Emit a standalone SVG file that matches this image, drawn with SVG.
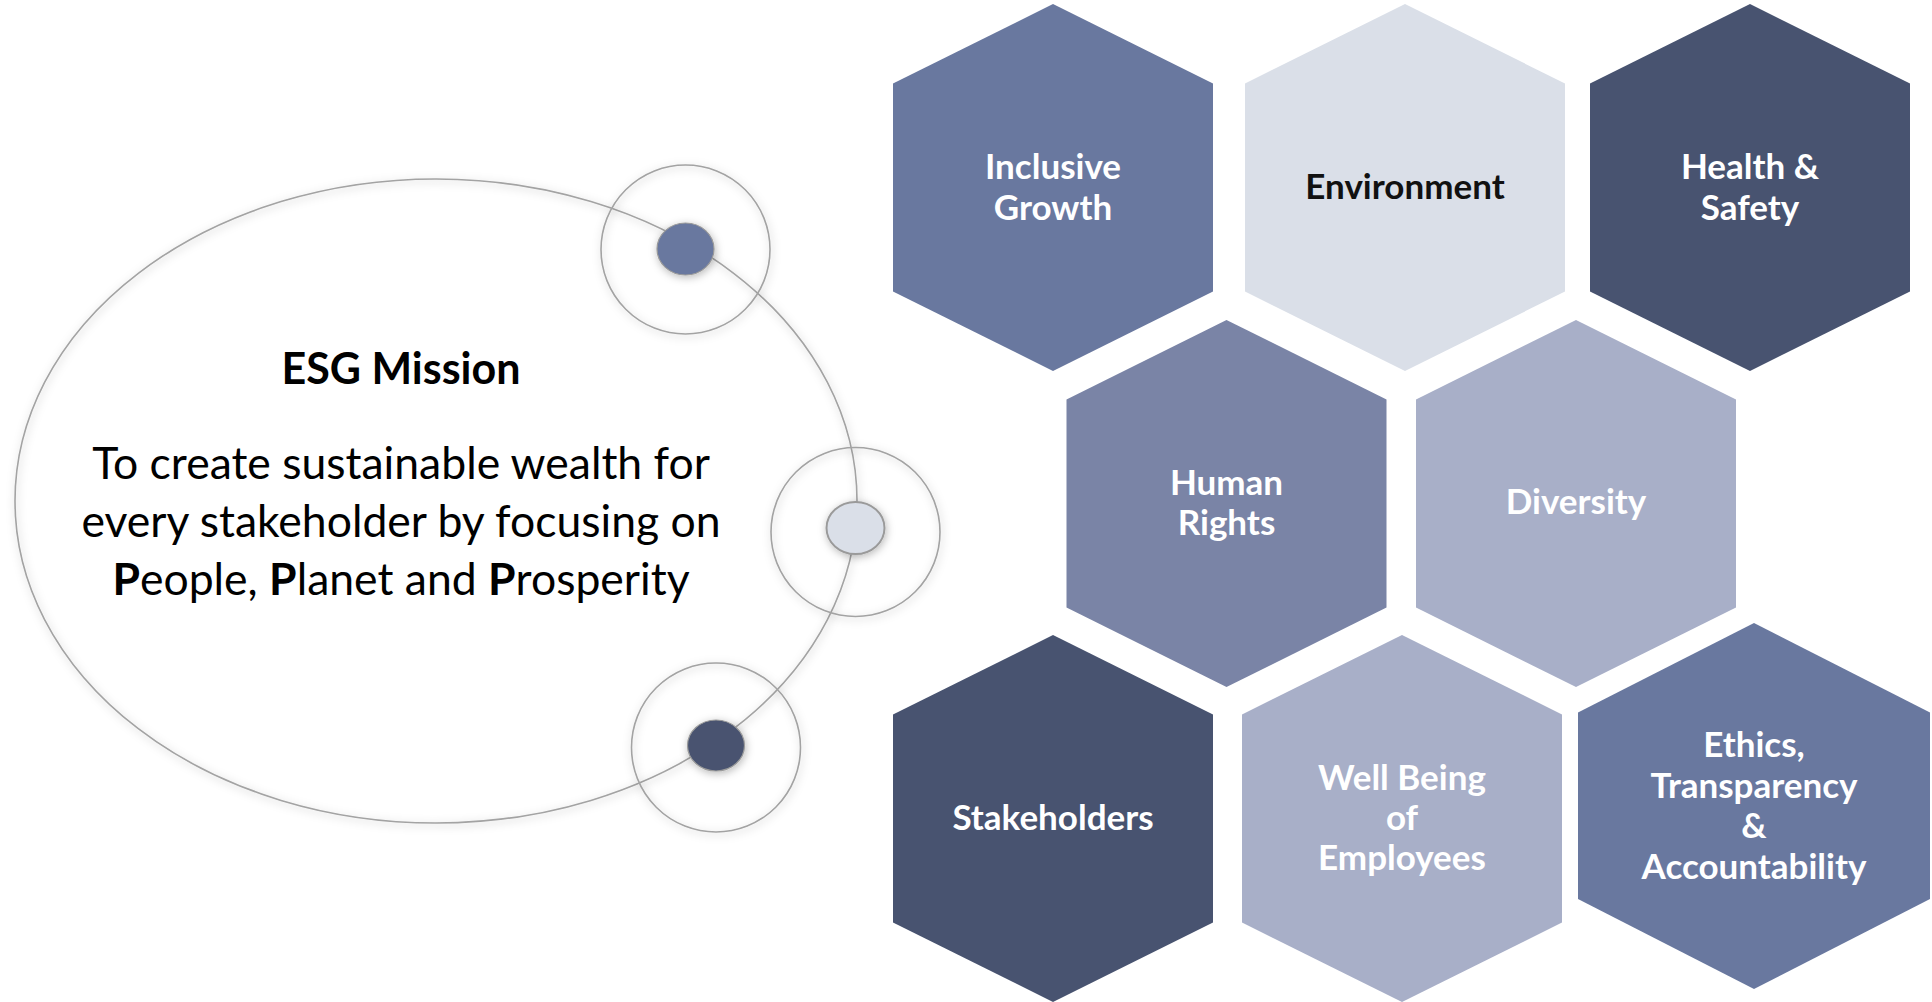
<svg xmlns="http://www.w3.org/2000/svg" width="1932" height="1002" viewBox="0 0 1932 1002">
<style>
.lbl{font-family:Lato,"Open Sans","Liberation Sans",sans-serif;font-weight:700;font-size:35px;fill:#ffffff;text-anchor:middle}
.dark{fill:#111111}
.body{font-family:Lato,"Open Sans","Liberation Sans",sans-serif;font-size:44.5px;fill:#000000;text-anchor:middle}
.ring{fill:none;stroke:#A3A3A3;stroke-width:1.6}
.b{font-weight:700}
</style>
<defs>
<filter id="sh" x="-30%" y="-30%" width="160%" height="160%">
<feGaussianBlur in="SourceAlpha" stdDeviation="4"/>
<feOffset dx="1" dy="2" result="o"/>
<feFlood flood-color="#000" flood-opacity="0.28"/>
<feComposite in2="o" operator="in"/>
<feMerge><feMergeNode/><feMergeNode in="SourceGraphic"/></feMerge>
</filter>
</defs>
<rect width="1932" height="1002" fill="#ffffff"/>

<g id="mission">
<ellipse cx="436" cy="501" rx="421" ry="322" class="ring" filter="url(#sh)"/>
<text x="401" y="384" class="body b" style="font-size:43px">ESG Mission</text>
<text x="401" y="479" class="body">To create sustainable wealth for</text>
<text x="401" y="537" class="body">every stakeholder by focusing on</text>
<text x="401" y="595" class="body"><tspan class="b">P</tspan>eople, <tspan class="b">P</tspan>lanet and <tspan class="b">P</tspan>rosperity</text>
</g>

<g id="ring-top">
<circle cx="685.5" cy="249.5" r="84.5" class="ring" filter="url(#sh)"/>
<ellipse cx="685.5" cy="249" rx="28.5" ry="26" fill="#69789F" stroke="#9A9A9A" stroke-width="1.2" filter="url(#sh)"/>
</g>
<g id="ring-middle">
<circle cx="855.5" cy="532" r="84.5" class="ring" filter="url(#sh)"/>
<ellipse cx="855.5" cy="528" rx="29" ry="26" fill="#DADFE8" stroke="#9A9A9A" stroke-width="2" filter="url(#sh)"/>
</g>
<g id="ring-bottom">
<circle cx="716" cy="747.5" r="84.5" class="ring" filter="url(#sh)"/>
<ellipse cx="716" cy="745.5" rx="28.5" ry="25.5" fill="#485370" stroke="#9A9A9A" stroke-width="1.2" filter="url(#sh)"/>
</g>

<g id="hex-inclusive-growth">
<polygon points="1053,4 1213,83.5 1213,291.5 1053,371 893,291.5 893,83.5" fill="#69789F"/>
<text x="1053" y="179" class="lbl">Inclusive</text>
<text x="1053" y="220" class="lbl">Growth</text>
</g>
<g id="hex-environment">
<polygon points="1405,4 1565,83.5 1565,291.5 1405,371 1245,291.5 1245,83.5" fill="#DADFE8"/>
<text x="1405" y="199" class="lbl dark">Environment</text>
</g>
<g id="hex-health-safety">
<polygon points="1750,4 1910,83.5 1910,291.5 1750,371 1590,291.5 1590,83.5" fill="#485370"/>
<text x="1750" y="179" class="lbl">Health &amp;</text>
<text x="1750" y="220" class="lbl">Safety</text>
</g>
<g id="hex-human-rights">
<polygon points="1226.5,320 1386.5,399.5 1386.5,607.5 1226.5,687 1066.5,607.5 1066.5,399.5" fill="#7A84A6"/>
<text x="1226.5" y="495" class="lbl">Human</text>
<text x="1226.5" y="535" class="lbl">Rights</text>
</g>
<g id="hex-diversity">
<polygon points="1576,320 1736,399.5 1736,607.5 1576,687 1416,607.5 1416,399.5" fill="#A8AFC8"/>
<text x="1576" y="514" class="lbl">Diversity</text>
</g>
<g id="hex-stakeholders">
<polygon points="1053,635 1213,714.5 1213,922.5 1053,1002 893,922.5 893,714.5" fill="#485370"/>
<text x="1053" y="830" class="lbl">Stakeholders</text>
</g>
<g id="hex-well-being">
<polygon points="1402,635 1562,714.5 1562,922.5 1402,1002 1242,922.5 1242,714.5" fill="#A8AFC8"/>
<text x="1402" y="790" class="lbl">Well Being</text>
<text x="1402" y="830" class="lbl">of</text>
<text x="1402" y="870" class="lbl">Employees</text>
</g>
<g id="hex-ethics">
<polygon points="1754,623 1930,712.5 1930,899 1754,989 1578,899 1578,712.5" fill="#69789F"/>
<text x="1754" y="757" class="lbl">Ethics,</text>
<text x="1754" y="798" class="lbl">Transparency</text>
<text x="1754" y="838" class="lbl">&amp;</text>
<text x="1754" y="879" class="lbl">Accountability</text>
</g>
<g id="connectors"></g>
</svg>
